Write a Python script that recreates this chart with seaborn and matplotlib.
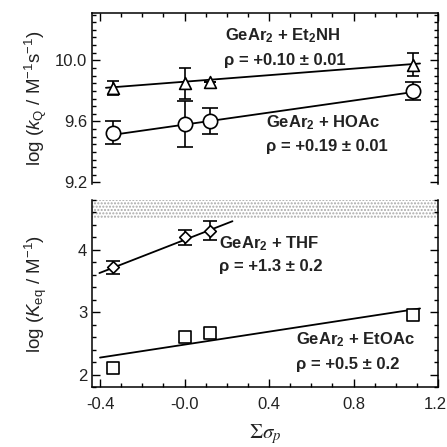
import numpy as np
import pandas as pd
import matplotlib
matplotlib.use("Agg")
import matplotlib.pyplot as plt
import matplotlib.transforms as mtransforms
import seaborn as sns
from matplotlib.ticker import MultipleLocator, FixedLocator, FixedFormatter

sns.set_theme(style="ticks")
plt.rcParams['font.family'] = ['Liberation Sans', 'DejaVu Sans']
plt.rcParams['mathtext.fontset'] = 'custom'
plt.rcParams['mathtext.rm'] = 'Liberation Sans'
plt.rcParams['mathtext.it'] = 'Liberation Sans:italic'
plt.rcParams['mathtext.bf'] = 'Liberation Sans:bold'

# ---------------- data ----------------
sigma = [-0.34, 0.00, 0.12, 1.08]

et2nh_y = [9.82, 9.85, 9.86, 9.97]
et2nh_err = [0.045, 0.10, 0.0, 0.075]
hoac_y = [9.525, 9.585, 9.60, 9.80]
hoac_err = [0.075, 0.15, 0.085, 0.06]

thf_x = [-0.34, 0.00, 0.12]
thf_y = [3.72, 4.20, 4.31]
thf_err = [0.10, 0.115, 0.15]
etoac_y = [2.11, 2.60, 2.66, 2.95]

# linear fits: intercept, slope, x-range of the drawn line
fit_et2nh = (9.86, 0.107, [-0.372, 1.115])
fit_hoac = (9.579, 0.197, [-0.362, 1.11])
fit_thf = (4.16, 1.32, [-0.403, 0.227])
fit_etoac = (2.48, 0.52, [-0.40, 1.115])

xticks = [-0.4, 0.0, 0.4, 0.8, 1.2]
xticklabels = ['-0.4', '-0.0', '0.4', '0.8', '1.2']
top_yticks = [9.2, 9.6, 10.0]
top_yticklabels = ['9.2', '9.6', '10.0']
bot_yticks = [2, 3, 4]
bot_yticklabels = ['2', '3', '4']

# ---------------- figure ----------------
fig = plt.figure(figsize=(4.47, 4.47), dpi=100)
W = 447.0
ax1 = fig.add_axes([92 / W, 1 - 184 / W, 346 / W, 171 / W])
ax2 = fig.add_axes([92 / W, 1 - 387 / W, 346 / W, 187 / W])

txtc = '#222222'


def fit_line(ax, fit):
    a, b, xr = fit
    xs = np.array(xr)
    df = pd.DataFrame({'x': xs, 'y': a + b * xs})
    sns.lineplot(data=df, x='x', y='y', ax=ax, color='black', lw=1.3,
                 zorder=2, legend=False)


def points(ax, x, y, err, marker, ms, cap):
    if err is not None:
        ax.errorbar(x, y, yerr=err, fmt='none', ecolor='black', elinewidth=1.2,
                    capsize=cap, capthick=1.2, zorder=3)
    df = pd.DataFrame({'x': x, 'y': y})
    sns.scatterplot(data=df, x='x', y='y', ax=ax, marker=marker, s=ms ** 2,
                    facecolor='white', edgecolor='black', linewidth=1.2,
                    zorder=4, legend=False)


# top panel
fit_line(ax1, fit_et2nh)
fit_line(ax1, fit_hoac)
points(ax1, sigma, et2nh_y, et2nh_err, '^', 8.5, 4.5)
points(ax1, sigma, hoac_y, hoac_err, 'o', 10.3, 5.5)

# bottom panel
ax2.axhspan(4.5, 4.8, facecolor='white', edgecolor='#a8a8a8', hatch='.....',
            linewidth=0, zorder=0)
fit_line(ax2, fit_thf)
fit_line(ax2, fit_etoac)
points(ax2, thf_x, thf_y, thf_err, 'D', 5.9, 4.8)
points(ax2, sigma, etoac_y, None, 's', 8.8, 0)

# axes limits / ticks
for ax in (ax1, ax2):
    ax.set_xlim(-0.438, 1.2)
    ax.xaxis.set_major_locator(FixedLocator(xticks))
    ax.xaxis.set_minor_locator(MultipleLocator(0.1))
    ax.set_xlabel('')
    ax.set_ylabel('')
    for s in ax.spines.values():
        s.set_linewidth(1.1)
        s.set_color('black')
    ax.tick_params(which='both', direction='in', color='black', width=1.0,
                   labelsize=12, labelcolor=txtc)
    ax.tick_params(which='major', length=5.5)
    ax.tick_params(which='minor', length=3)

ax1.set_ylim(9.19, 10.31)
ax1.yaxis.set_major_locator(FixedLocator(top_yticks))
ax1.yaxis.set_major_formatter(FixedFormatter(top_yticklabels))
ax1.yaxis.set_minor_locator(MultipleLocator(0.05))
ax1.spines['bottom'].set_visible(False)
ax1.tick_params(which='both', top=True, bottom=False, right=True, left=True,
                labelbottom=False, labelleft=True)
ax1.tick_params(axis='y', pad=3.5)

ax2.set_ylim(1.8, 4.8)
ax2.yaxis.set_major_locator(FixedLocator(bot_yticks))
ax2.yaxis.set_major_formatter(FixedFormatter(bot_yticklabels))
ax2.yaxis.set_minor_locator(MultipleLocator(0.2))
ax2.xaxis.set_major_formatter(FixedFormatter(xticklabels))
ax2.spines['top'].set_visible(False)
ax2.tick_params(which='both', top=False, bottom=True, right=True, left=True)
ax2.tick_params(axis='y', pad=3.5)
ax2.tick_params(axis='x', pad=7)

# keep the last x tick label inside the canvas
fig.canvas.draw()
last = ax2.get_xticklabels()[-1]
last.set_transform(last.get_transform() +
                   mtransforms.ScaledTranslation(-3 / 100, 0, fig.dpi_scale_trans))

# labels
ax1.set_ylabel(r'log ($k_\mathrm{Q}$ / M$^{-1}$s$^{-1}$)', fontsize=13.5, color=txtc)
ax1.yaxis.set_label_coords(-0.125, 0.5)
ax2.set_ylabel(r'log ($K_\mathrm{eq}$ / M$^{-1}$)', fontsize=13.5, color=txtc)
ax2.yaxis.set_label_coords(-0.125, 0.5)
ax2.set_xlabel(r'$\Sigma\sigma_p$', fontsize=15, color=txtc, math_fontfamily='stix')
ax2.xaxis.set_label_coords(0.5, -0.19)

kw = dict(fontsize=12, fontweight='bold', color=txtc, ha='left', va='center')
ax1.text(0.19, 10.163, r'GeAr$_\mathbf{2}$ + Et$_\mathbf{2}$NH', **kw)
ax1.text(0.185, 10.0, 'ρ = +0.10 ± 0.01', **kw)
ax1.text(0.386, 9.59, r'GeAr$_\mathbf{2}$ + HOAc', **kw)
ax1.text(0.386, 9.434, 'ρ = +0.19 ± 0.01', **kw)
ax2.text(0.165, 4.096, r'GeAr$_\mathbf{2}$ + THF', **kw)
ax2.text(0.165, 3.739, 'ρ = +1.3 ± 0.2', **kw)
ax2.text(0.527, 2.565, r'GeAr$_\mathbf{2}$ + EtOAc', **kw)
ax2.text(0.527, 2.165, 'ρ = +0.5 ± 0.2', **kw)

fig.savefig('out.png', dpi=100, facecolor='white')
